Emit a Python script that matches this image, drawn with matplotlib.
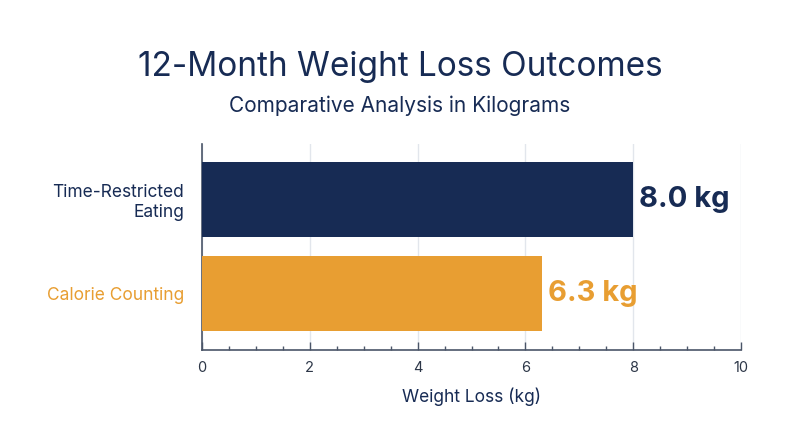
import matplotlib
matplotlib.use("Agg")
import matplotlib.pyplot as plt
from matplotlib.ticker import MultipleLocator

plt.rcParams['font.family'] = ['Inter', 'DejaVu Sans']

categories = ["Calorie Counting", "Time-Restricted\nEating"]
values = [6.3, 8.0]
value_labels = ["6.3 kg", "8.0 kg"]
colors = ["#E89E32", "#172B54"]
x_ticks = [0, 2, 4, 6, 8, 10]

title = "12-Month Weight Loss Outcomes"
subtitle = "Comparative Analysis in Kilograms"
xlabel = "Weight Loss (kg)"

navy = "#172B54"
axis_col = "#4A5568"

fig = plt.figure(figsize=(8, 4.47), dpi=100)
ax = fig.add_axes([0.2525, 0.217, 0.67375, 0.461])

ypos = list(range(len(categories)))
ax.barh(ypos, values, height=0.8, color=colors, zorder=3)

for y, v, lab, c in zip(ypos, values, value_labels, colors):
    ax.annotate(lab, xy=(v, y), xytext=(4.5, 0), textcoords="offset points",
                ha="left", va="center", fontsize=21, fontweight="bold", color=c)

ax.set_xlim(0, 10)
ax.set_ylim(-0.6, 1.59)
ax.set_xticks(x_ticks)
ax.set_xticklabels([str(t) for t in x_ticks])
ax.xaxis.set_minor_locator(MultipleLocator(0.5))
ax.set_yticks(ypos)
ax.set_yticklabels(categories, fontsize=12.5, ha="right")
for lbl, c in zip(ax.get_yticklabels(), colors):
    lbl.set_color(c)

ax.tick_params(axis="y", length=0, pad=13)
ax.tick_params(axis="x", which="major", direction="in", length=6, width=1,
               color=axis_col, labelsize=10.5, labelcolor="#2D3748", pad=8)
ax.tick_params(axis="x", which="minor", direction="in", length=3, width=1,
               color=axis_col)

ax.grid(axis="x", which="major", color="#E2E6EC", linewidth=1, zorder=0)
ax.set_axisbelow(True)

for s in ["top", "right"]:
    ax.spines[s].set_visible(False)
for s in ["left", "bottom"]:
    ax.spines[s].set_color(axis_col)
    ax.spines[s].set_linewidth(1.2)

ax.set_xlabel(xlabel, fontsize=12.5, color=navy, labelpad=9)

fig.text(0.5, 1 - 76 / 447, title, ha="center", va="baseline",
         fontsize=24, color=navy)
fig.text(0.5, 1 - 112 / 447, subtitle, ha="center", va="baseline",
         fontsize=15, color=navy)

fig.savefig("out.png", dpi=100)
